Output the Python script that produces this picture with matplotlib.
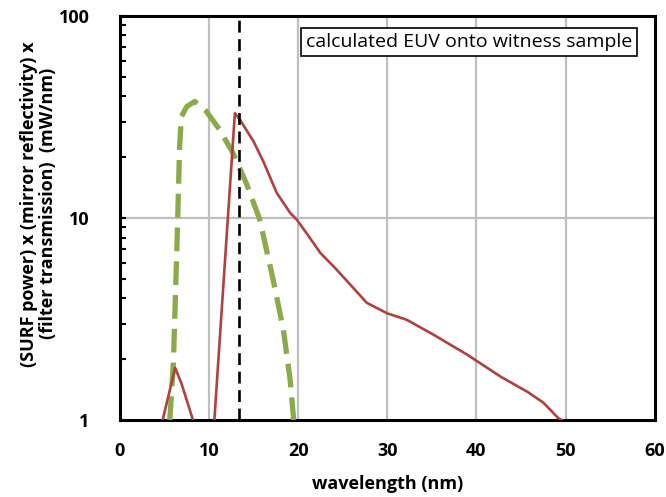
import numpy as np
import matplotlib
matplotlib.use("Agg")
import matplotlib.pyplot as plt
from matplotlib.ticker import LogLocator, NullFormatter, FixedLocator

plt.rcParams['font.family'] = ['Open Sans', 'DejaVu Sans']

# red curve: calculated EUV through mirror + filter
red_x = [4.8, 6.2, 6.9, 8.2, None, 10.6, 12.9, 13.5, 15.0, 16.1, 17.6, 19.1, 19.85, 21.2, 22.5,
         24.0, 26.0, 27.7, 30.0, 32.2, 35.2, 39.0, 42.7, 45.7, 47.5, 49.2, 49.6]
red_y = [1.0, 1.81, 1.52, 1.0, None, 1.0, 33.0, 30.5, 23.9, 19.0, 13.3, 10.6, 9.8, 8.1, 6.7,
         5.74, 4.6, 3.8, 3.37, 3.13, 2.64, 2.1, 1.64, 1.38, 1.22, 1.02, 1.0]

# green dashed curve
green_x = [5.6, 6.0, 6.4, 6.7, 6.9, 7.5, 8.4, 9.7, 11.2, 12.7, 14.2, 15.7, 17.2, 18.35, 19.1, 19.5]
green_y = [1.0, 1.9, 7.2, 22.5, 31.7, 35.6, 37.7, 33.7, 27.3, 20.9, 14.8, 9.8, 4.93, 2.79, 1.58, 1.0]

marker_wl = 13.4
box_text = "calculated EUV onto witness sample"
x_ticks = [0, 10, 20, 30, 40, 50, 60]
y_ticks = [1, 10, 100]


def segments(xs, ys):
    seg_x, seg_y = [], []
    for a, b in zip(xs, ys):
        if a is None:
            yield seg_x, seg_y
            seg_x, seg_y = [], []
        else:
            seg_x.append(a)
            seg_y.append(b)
    yield seg_x, seg_y


fig = plt.figure(figsize=(6.66, 4.97), dpi=100)
ax = fig.add_axes([0.180, 0.155, 0.803, 0.813])

ax.set_xlim(0, 60)
ax.set_yscale('log')
ax.set_ylim(1, 100)

for v in [10, 20, 30, 40, 50]:
    ax.axvline(v, color='#BFBFBF', lw=1.6, zorder=0)
ax.axhline(10, color='#BFBFBF', lw=1.6, zorder=0)

ax.plot(green_x, green_y, color='#8BAA4B', lw=3.8, dashes=(4.5, 1.9),
        solid_capstyle='butt', zorder=3)
for sx, sy in segments(red_x, red_y):
    ax.plot(sx, sy, color='#B0413E', lw=1.9, zorder=4)

ax.axvline(marker_wl, color='black', lw=1.9, dashes=(4.5, 2.5), zorder=5)

ax.text(0.958, 0.935, box_text, transform=ax.transAxes, ha='right', va='center',
        fontsize=14, fontweight='medium', zorder=6,
        bbox=dict(boxstyle='square,pad=0.25', fc='white', ec='black', lw=1.2))

ax.xaxis.set_major_locator(FixedLocator(x_ticks))
ax.yaxis.set_major_locator(FixedLocator(y_ticks))
ax.yaxis.set_minor_locator(LogLocator(base=10, subs=np.arange(2, 10)))
ax.yaxis.set_minor_formatter(NullFormatter())
ax.set_yticklabels([str(v) for v in y_ticks])
ax.set_xticklabels([str(v) for v in x_ticks])

ax.tick_params(axis='x', length=0, pad=16, labelsize=13)
ax.tick_params(axis='y', which='both', direction='in', length=4, width=1.5,
               pad=22, labelsize=13)
for lab in ax.get_xticklabels() + ax.get_yticklabels():
    lab.set_fontweight('bold')

for s in ax.spines.values():
    s.set_linewidth(2.2)
    s.set_color('black')

ax.set_xlabel('wavelength (nm)', fontsize=13, fontweight='bold', labelpad=11)
fig.text(0.058, 0.59, '(SURF power) x (mirror reflectivity) x\n(filter transmission)  (mW/nm)',
         rotation=90, ha='center', va='center', fontsize=13, fontweight='bold',
         linespacing=1.1)

fig.savefig('out.png', dpi=100)
